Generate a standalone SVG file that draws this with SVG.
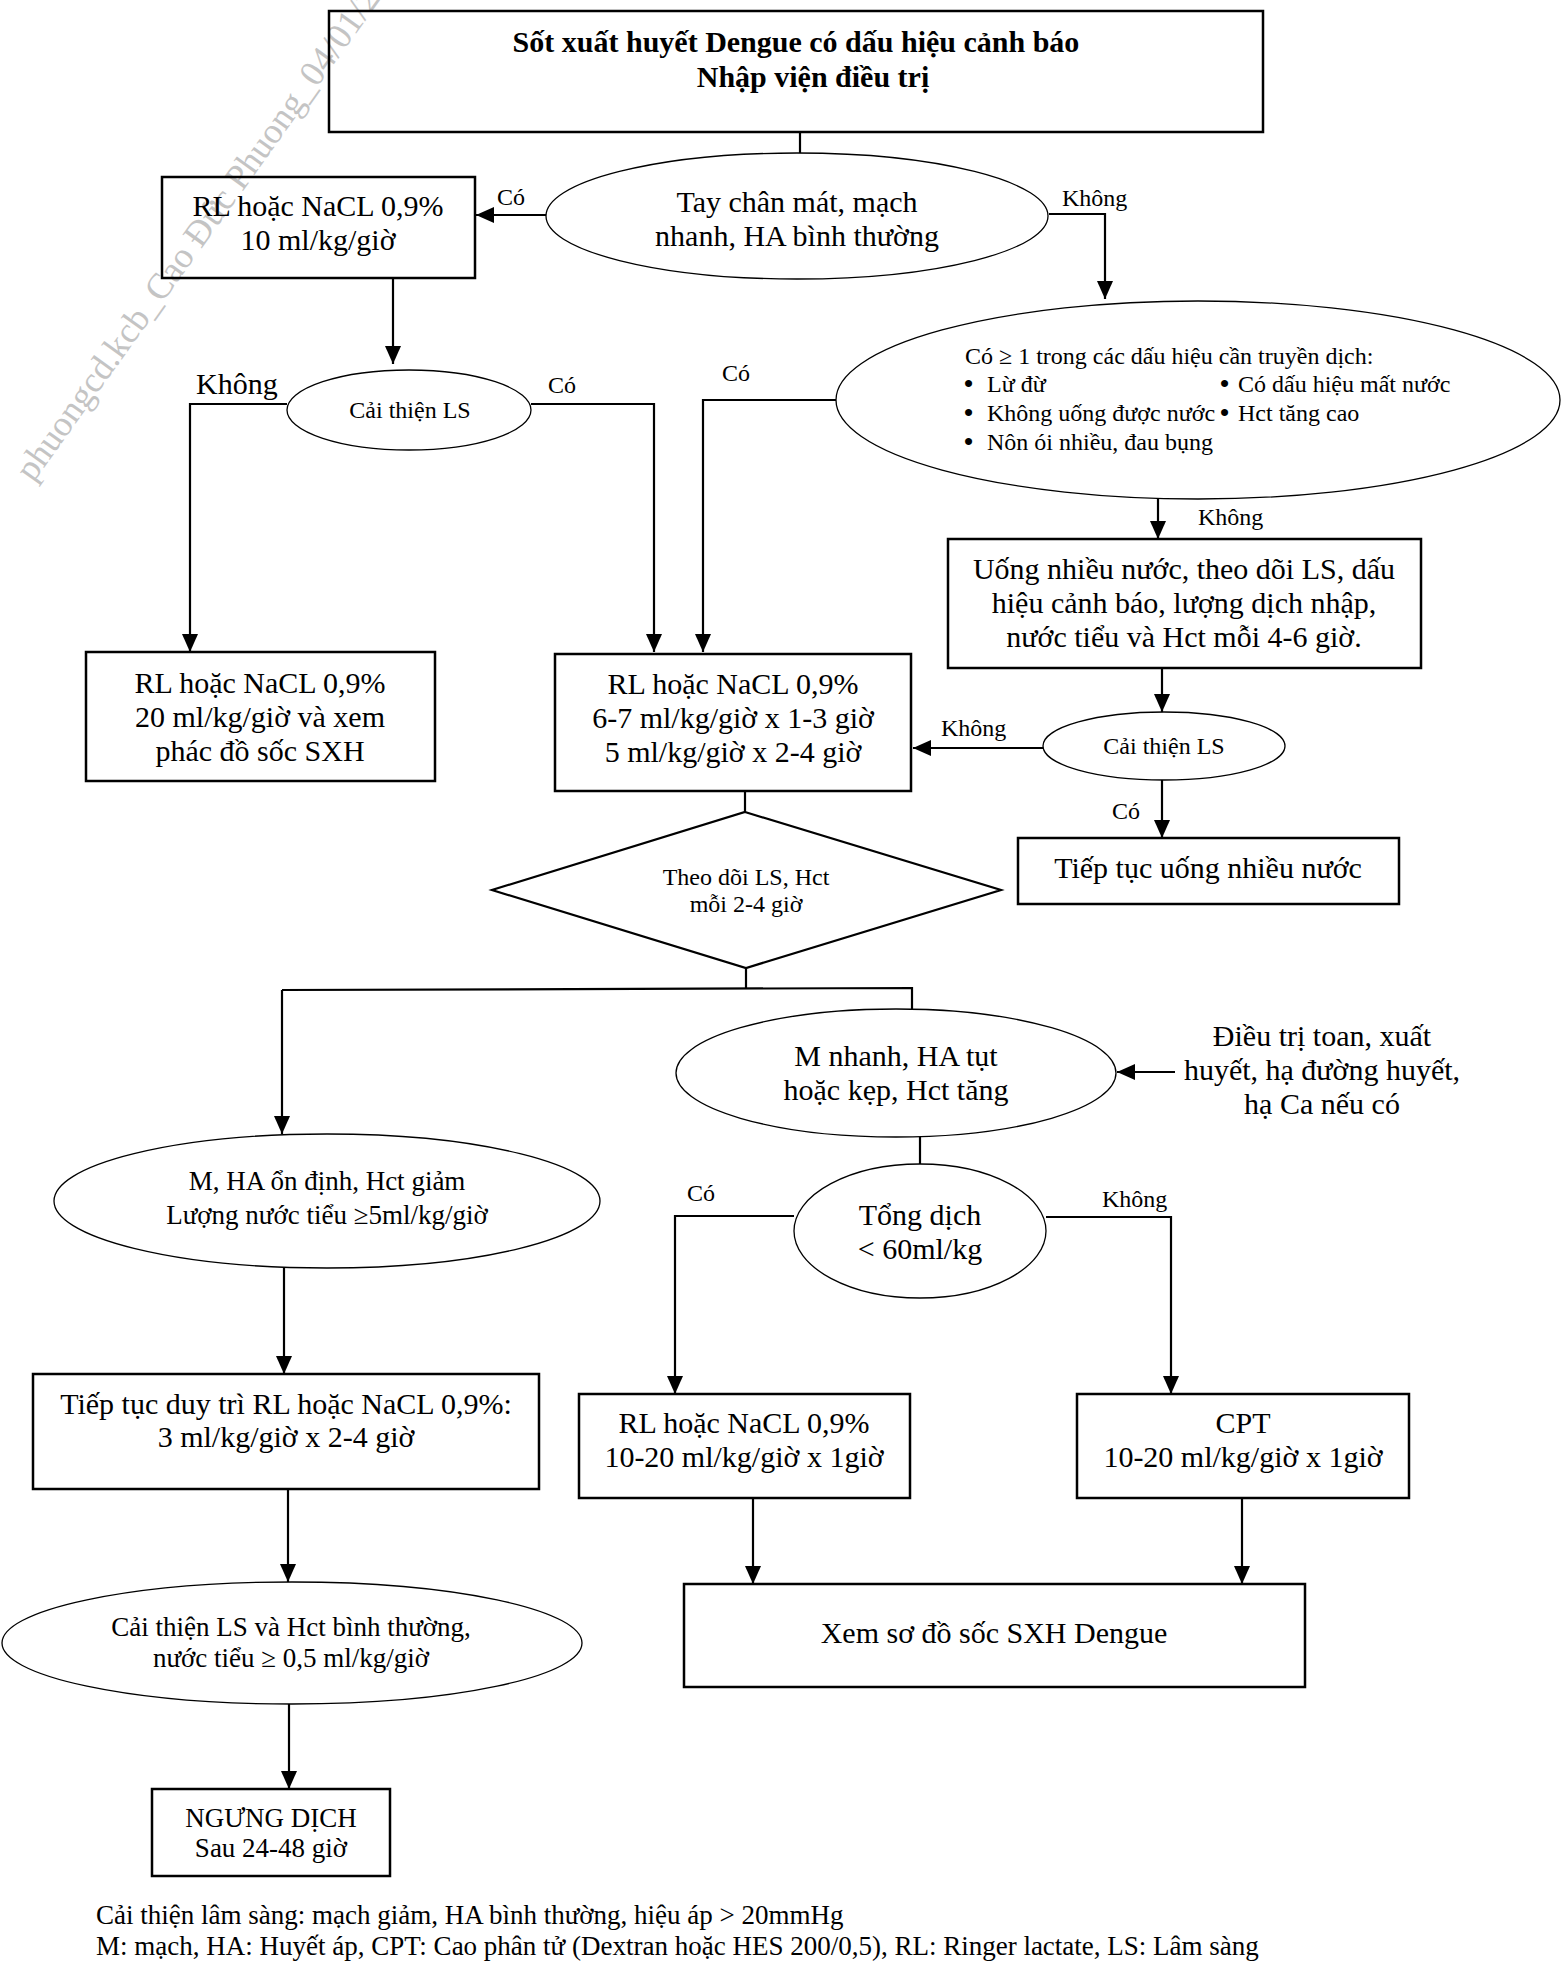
<svg xmlns="http://www.w3.org/2000/svg" width="1563" height="1971" viewBox="0 0 1563 1971">
<style>
text{font-family:"Liberation Serif","Times New Roman",serif;fill:#000}
.c{text-anchor:middle}
.f30{font-size:30px}
.f27{font-size:27px}
.f24{font-size:24px}
.bul{font-size:26px;font-weight:bold}
.b{font-weight:bold;font-size:30px}
.box{fill:none;stroke:#000;stroke-width:2.5}
.ell{fill:none;stroke:#000;stroke-width:1.3}
.dia{fill:none;stroke:#000;stroke-width:2.2}
.ln{fill:none;stroke:#000;stroke-width:2.2}
.arr{marker-end:url(#ah)}
.wm{font-size:36px;fill:#c4c4c4}
</style>
<defs>
<marker id="ah" markerUnits="userSpaceOnUse" markerWidth="18" markerHeight="16" refX="18" refY="8" orient="auto">
<path d="M0,0 L18,8 L0,16 z" fill="#000"/>
</marker>
</defs>
<rect x="0" y="0" width="1563" height="1971" fill="#fff"/>
<text class="wm" transform="translate(33,483) rotate(-54.3)">phuongcd.kcb_Cao Đức Phuong_04/01/2</text>

<g id="connectors">
<path class="ln" d="M800,132 V153"/>
<path class="ln arr" d="M546,215 H476"/>
<path class="ln arr" d="M1049,214 H1105 V299"/>
<path class="ln arr" d="M393,278 V364"/>
<path class="ln arr" d="M287,404 H190 V652"/>
<path class="ln arr" d="M531,404 H654 V652"/>
<path class="ln arr" d="M836,400 H703 V652"/>
<path class="ln arr" d="M1158,499 V539"/>
<path class="ln arr" d="M1162,668 V712"/>
<path class="ln arr" d="M1043,748 H913"/>
<path class="ln arr" d="M1162,780 V838"/>
<path class="ln" d="M745,791 V812"/>
<path class="ln" d="M746,968 V989"/>
<path class="ln" d="M282,990 L912,988 V1009"/>
<path class="ln arr" d="M282,990 V1134"/>
<path class="ln arr" d="M1175,1072 H1117"/>
<path class="ln" d="M920,1137 V1164"/>
<path class="ln arr" d="M794,1216 H675 V1394"/>
<path class="ln arr" d="M1046,1217 H1171 V1394"/>
<path class="ln arr" d="M284,1268 V1374"/>
<path class="ln arr" d="M288,1489 V1582"/>
<path class="ln arr" d="M289,1704 V1789"/>
<path class="ln arr" d="M753,1498 V1584"/>
<path class="ln arr" d="M1242,1498 V1584"/>
<text class="f24" x="497" y="205">Có</text>
<text class="f24" x="1062" y="206">Không</text>
<text class="f30" x="196" y="394">Không</text>
<text class="f24" x="548" y="393">Có</text>
<text class="f24" x="722" y="381">Có</text>
<text class="f24" x="1198" y="525">Không</text>
<text class="f24" x="941" y="736">Không</text>
<text class="f24" x="1112" y="819">Có</text>
<text class="f24" x="687" y="1201">Có</text>
<text class="f24" x="1102" y="1207">Không</text>
</g>

<g id="n-title">
<rect class="box" x="329" y="11" width="934" height="121"/>
<text class="b c" x="796" y="52">Sốt xuất huyết Dengue có dấu hiệu cảnh báo</text>
<text class="b c" x="813" y="87">Nhập viện điều trị</text>
</g>

<g id="n-tay-chan">
<ellipse class="ell" cx="797" cy="216" rx="251" ry="63"/>
<text class="f30 c" x="797" y="212">Tay chân mát, mạch</text>
<text class="f30 c" x="797" y="246">nhanh, HA bình thường</text>
</g>

<g id="n-rl10">
<rect class="box" x="162" y="177" width="313" height="101"/>
<text class="f30 c" x="318" y="216">RL hoặc NaCL 0,9%</text>
<text class="f30 c" x="318" y="250">10 ml/kg/giờ</text>
</g>

<g id="n-caithien1">
<ellipse class="ell" cx="409" cy="410" rx="122" ry="40"/>
<text class="f24 c" x="410" y="418">Cải thiện LS</text>
</g>

<g id="n-dauhieu">
<ellipse class="ell" cx="1198" cy="400" rx="362" ry="99"/>
<text class="f24" x="965" y="364">Có ≥ 1 trong các dấu hiệu cần truyền dịch:</text>
<text class="f24" y="392"><tspan class="bul" x="964">•</tspan><tspan x="987">Lừ đừ</tspan><tspan class="bul" x="1220">•</tspan><tspan x="1238">Có dấu hiệu mất nước</tspan></text>
<text class="f24" y="421"><tspan class="bul" x="964">•</tspan><tspan x="987">Không uống được nước</tspan><tspan class="bul" x="1220">•</tspan><tspan x="1238">Hct tăng cao</tspan></text>
<text class="f24" y="450"><tspan class="bul" x="964">•</tspan><tspan x="987">Nôn ói nhiều, đau bụng</tspan></text>
</g>

<g id="n-rl20">
<rect class="box" x="86" y="652" width="349" height="129"/>
<text class="f30 c" x="260" y="693">RL hoặc NaCL 0,9%</text>
<text class="f30 c" x="260" y="727">20 ml/kg/giờ và xem</text>
<text class="f30 c" x="260" y="761">phác đồ sốc SXH</text>
</g>

<g id="n-rl67">
<rect class="box" x="555" y="654" width="356" height="137"/>
<text class="f30 c" x="733" y="694">RL hoặc NaCL 0,9%</text>
<text class="f30 c" x="733" y="728">6-7 ml/kg/giờ x 1-3 giờ</text>
<text class="f30 c" x="733" y="762">5 ml/kg/giờ x 2-4 giờ</text>
</g>

<g id="n-uong">
<rect class="box" x="948" y="539" width="473" height="129"/>
<text class="f30 c" x="1184" y="579">Uống nhiều nước, theo dõi LS, dấu</text>
<text class="f30 c" x="1184" y="613">hiệu cảnh báo, lượng dịch nhập,</text>
<text class="f30 c" x="1184" y="647">nước tiểu và Hct mỗi 4-6 giờ.</text>
</g>

<g id="n-caithien2">
<ellipse class="ell" cx="1164" cy="746" rx="121" ry="34"/>
<text class="f24 c" x="1164" y="754">Cải thiện LS</text>
</g>

<g id="n-tieptuc-uong">
<rect class="box" x="1018" y="838" width="381" height="66"/>
<text class="f30 c" x="1208" y="878">Tiếp tục uống nhiều nước</text>
</g>

<g id="n-theodoi">
<polygon class="dia" points="745,812 1001,890 746,968 492,890"/>
<text class="f24 c" x="746" y="885">Theo dõi LS, Hct</text>
<text class="f24 c" x="746" y="912">mỗi 2-4 giờ</text>
</g>

<g id="n-ondinh">
<ellipse class="ell" cx="327" cy="1201" rx="273" ry="67"/>
<text class="f27 c" x="327" y="1190">M, HA ổn định, Hct giảm</text>
<text class="f27 c" x="327" y="1224">Lượng nước tiểu ≥5ml/kg/giờ</text>
</g>

<g id="n-mnhanh">
<ellipse class="ell" cx="896" cy="1073" rx="220" ry="64"/>
<text class="f30 c" x="896" y="1066">M nhanh, HA tụt</text>
<text class="f30 c" x="896" y="1100">hoặc kẹp, Hct tăng</text>
</g>

<g id="n-dieutri">
<text class="f30 c" x="1322" y="1046">Điều trị toan, xuất</text>
<text class="f30 c" x="1322" y="1080">huyết, hạ đường huyết,</text>
<text class="f30 c" x="1322" y="1114">hạ Ca nếu có</text>
</g>

<g id="n-tongdich">
<ellipse class="ell" cx="920" cy="1231" rx="126" ry="67"/>
<text class="f30 c" x="920" y="1225">Tổng dịch</text>
<text class="f30 c" x="920" y="1259">&lt; 60ml/kg</text>
</g>

<g id="n-duytri">
<rect class="box" x="33" y="1374" width="506" height="115"/>
<text class="f30 c" x="286" y="1414">Tiếp tục duy trì RL hoặc NaCL 0,9%:</text>
<text class="f30 c" x="286" y="1447">3 ml/kg/giờ x 2-4 giờ</text>
</g>

<g id="n-rl1020">
<rect class="box" x="579" y="1394" width="331" height="104"/>
<text class="f30 c" x="744" y="1433">RL hoặc NaCL 0,9%</text>
<text class="f30 c" x="744" y="1467">10-20 ml/kg/giờ x 1giờ</text>
</g>

<g id="n-cpt">
<rect class="box" x="1077" y="1394" width="332" height="104"/>
<text class="f30 c" x="1243" y="1433">CPT</text>
<text class="f30 c" x="1243" y="1467">10-20 ml/kg/giờ x 1giờ</text>
</g>

<g id="n-caithien3">
<ellipse class="ell" cx="292" cy="1643" rx="290" ry="61"/>
<text class="f27 c" x="291" y="1636">Cải thiện LS và Hct bình thường,</text>
<text class="f27 c" x="291" y="1667">nước tiểu ≥ 0,5 ml/kg/giờ</text>
</g>

<g id="n-xem">
<rect class="box" x="684" y="1584" width="621" height="103"/>
<text class="f30 c" x="994" y="1643">Xem sơ đồ sốc SXH Dengue</text>
</g>

<g id="n-ngung">
<rect class="box" x="152" y="1789" width="238" height="87"/>
<text class="f27 c" x="271" y="1827">NGƯNG DỊCH</text>
<text class="f27 c" x="271" y="1857">Sau 24-48 giờ</text>
</g>

<g id="footnote">
<text class="f27" x="96" y="1924">Cải thiện lâm sàng: mạch giảm, HA bình thường, hiệu áp &gt; 20mmHg</text>
<text class="f27" x="96" y="1955">M: mạch, HA: Huyết áp, CPT: Cao phân tử (Dextran hoặc HES 200/0,5), RL: Ringer lactate, LS: Lâm sàng</text>
</g>
</svg>
